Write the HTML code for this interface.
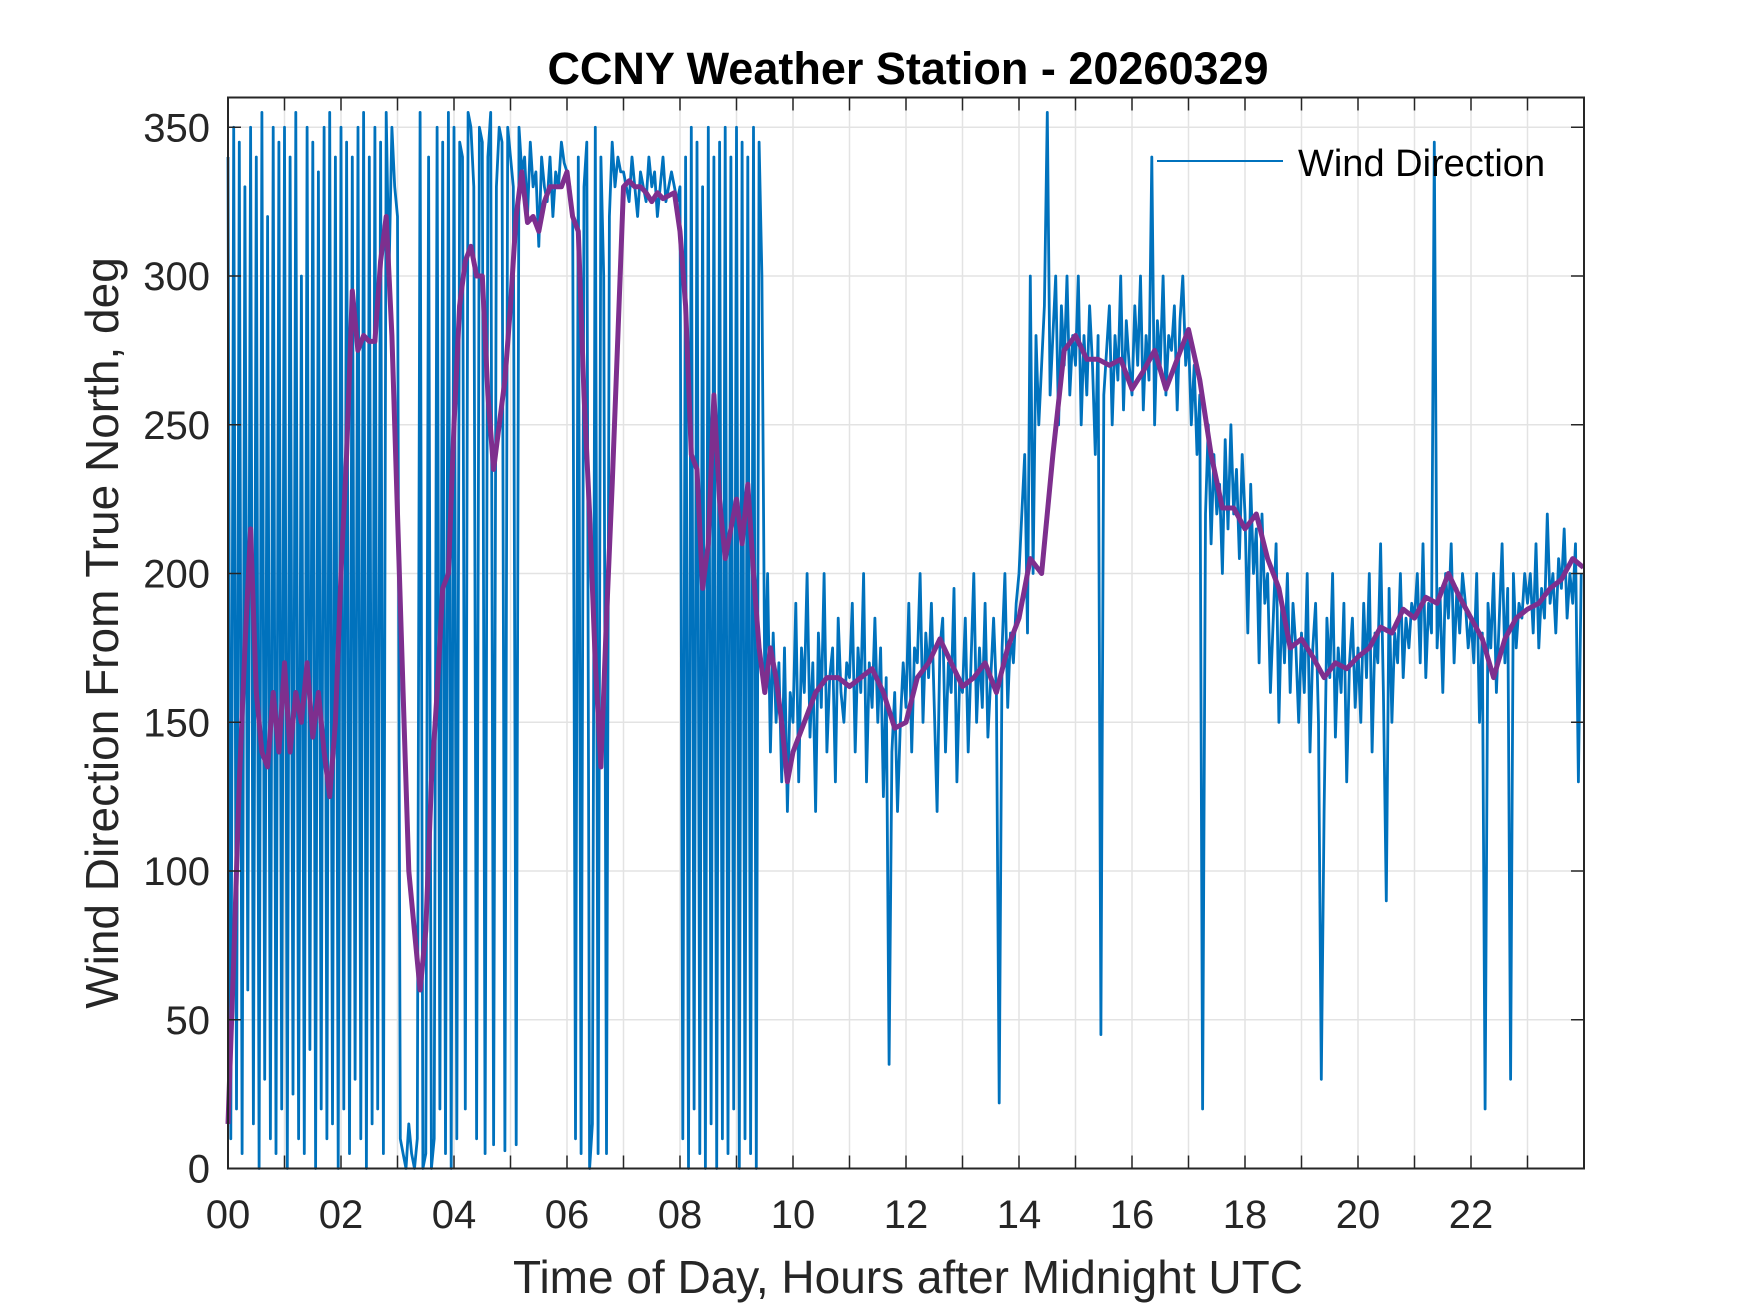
<!DOCTYPE html>
<html><head><meta charset="utf-8"><style>
html,body{margin:0;padding:0;background:#fff;}
svg{display:block;font-family:"Liberation Sans",Arial,sans-serif;}
</style></head><body>
<svg id="chart" width="1750" height="1313" viewBox="0 0 1750 1313" xmlns="http://www.w3.org/2000/svg">
<rect width="1750" height="1313" fill="#fff"/>
<g id="grid"></g>
<g id="series"></g>
<g id="axes"></g>
<text x="908" y="84" text-anchor="middle" font-size="45" font-weight="bold" fill="#000">CCNY Weather Station - 20260329</text>
<text x="908" y="1293" text-anchor="middle" font-size="46" fill="#262626">Time of Day, Hours after Midnight UTC</text>
<text transform="translate(118,633) rotate(-90)" text-anchor="middle" font-size="46" fill="#262626">Wind Direction From True North, deg</text>
<g>
<line x1="1157" y1="161" x2="1283" y2="161" stroke="#0072BD" stroke-width="2"/>
<text x="1298" y="176" font-size="38" fill="#000">Wind Direction</text>
</g>
</svg>
<script>
const xTicks = [0,1,2,3,4,5,6,7,8,9,10,11,12,13,14,15,16,17,18,19,20,21,22,23,24];
const xTickLabels = ["00","","02","","04","","06","","08","","10","","12","","14","","16","","18","","20","","22","",""];
const yTicks = [0,50,100,150,200,250,300,350];
const yTickLabels = ["0","50","100","150","200","250","300","350"];
const windStep = 0.05;
const windValues = [
340,10,350,20,345,5,330,60,350,15,340,0,355,30,320,10,350,5,345,20,
350,0,340,25,355,10,300,5,350,40,345,0,335,20,350,10,355,15,340,0,
350,20,345,5,340,30,350,10,355,0,340,15,350,20,345,5,355,300,350,330,
320,10,5,0,15,5,0,10,355,0,5,340,0,10,350,20,345,5,355,0,
350,10,345,340,20,355,350,330,10,350,345,5,340,355,8,330,350,345,6,350,
340,330,8,350,335,340,320,345,330,335,310,340,330,325,340,320,335,330,345,338,
335,330,320,10,340,5,330,345,0,15,350,5,340,300,5,320,345,330,340,335,
335,330,325,340,330,320,335,330,325,340,330,335,320,330,340,325,330,335,330,325,
330,10,340,0,350,20,345,5,330,0,350,15,340,0,345,10,350,5,340,20,
350,0,345,10,340,5,350,0,345,300,
160,200,140,180,150,170,130,175,120,160,
150,190,130,175,160,200,145,170,120,180,155,200,140,165,175,130,185,160,150,170,
165,190,140,175,160,200,130,170,155,185,150,175,125,165,35,140,160,120,150,170,
155,190,140,175,170,200,150,180,165,190,155,120,175,185,140,170,160,195,130,165,
160,185,140,170,200,150,175,155,190,145,165,185,160,22,175,200,155,180,170,190,
200,220,240,180,300,200,280,250,270,290,355,260,280,300,250,290,270,300,260,280,
270,300,250,280,260,290,270,240,280,45,260,275,290,250,280,265,300,255,285,270,
260,290,270,300,255,280,265,340,250,285,270,300,260,280,275,290,255,285,300,270,
280,250,270,240,260,20,220,250,210,240,220,230,200,245,215,250,220,235,205,240,
220,180,230,200,215,170,220,190,200,160,185,210,150,190,170,200,160,190,175,150,
180,160,200,140,175,190,150,30,120,185,165,200,145,175,160,190,130,170,185,155,
175,150,190,165,200,140,180,170,210,160,90,195,150,180,170,200,165,185,175,190,
185,200,170,210,165,190,180,345,175,195,160,200,185,210,170,195,180,200,190,175,
185,170,200,150,180,20,190,175,200,160,185,210,170,195,30,200,175,190,185,200,
190,200,180,210,175,195,185,220,190,200,180,205,195,215,185,200,190,210,130,200
];
const avgHours = [0,0.1,0.2,0.3,0.4,0.5,0.6,0.7,0.8,0.9,1.0,1.1,1.2,1.3,1.4,1.5,1.6,1.7,1.8,1.9,2.0,2.1,2.2,2.3,2.4,2.5,2.6,2.7,2.8,2.9,3.0,3.1,3.2,3.3,3.4,3.5,3.6,3.7,3.8,3.9,4.0,4.1,4.2,4.3,4.4,4.5,4.6,4.7,4.8,4.9,5.0,5.1,5.2,5.3,5.4,5.5,5.6,5.7,5.8,5.9,6.0,6.1,6.2,6.3,6.4,6.5,6.6,6.7,6.8,6.9,7.0,7.1,7.2,7.3,7.4,7.5,7.6,7.7,7.8,7.9,8.0,8.1,8.2,8.3,8.4,8.5,8.6,8.7,8.8,8.9,9.0,9.1,9.2,9.3,9.4,9.5,9.6,9.7,9.8,9.9,10.0,10.2,10.4,10.6,10.8,11.0,11.2,11.4,11.6,11.8,12.0,12.2,12.4,12.6,12.8,13.0,13.2,13.4,13.6,13.8,14.0,14.2,14.4,14.6,14.8,15.0,15.2,15.4,15.6,15.8,16.0,16.2,16.4,16.6,16.8,17.0,17.2,17.4,17.6,17.8,18.0,18.2,18.4,18.6,18.8,19.0,19.2,19.4,19.6,19.8,20.0,20.2,20.4,20.6,20.8,21.0,21.2,21.4,21.6,21.8,22.0,22.2,22.4,22.6,22.8,23.0,23.2,23.4,23.6,23.8,23.99];
const avgValues = [15,70,130,175,215,160,140,135,160,140,170,140,160,150,170,145,160,140,125,150,200,240,295,275,280,278,278,305,320,280,220,160,100,80,60,80,130,160,195,200,250,290,305,310,300,300,260,235,250,265,290,320,335,318,320,315,325,330,330,330,335,320,315,260,220,170,135,185,230,280,330,332,330,330,328,325,328,326,327,328,315,290,240,235,195,210,260,225,205,215,225,210,230,200,175,160,175,165,150,130,140,150,160,165,165,162,165,168,160,148,150,165,170,178,170,162,165,170,160,175,185,205,200,240,275,280,272,272,270,272,262,268,275,262,272,282,265,240,222,222,215,220,205,195,175,178,172,165,170,168,172,175,182,180,188,185,192,190,200,192,185,178,165,178,185,188,190,195,198,205,202];

const L=228,R=1584,T=97.5,B=1168.5;
const xS=h=>L+(h/24)*(R-L);
const yS=v=>B-(v/360)*(B-T);
const NS="http://www.w3.org/2000/svg";
function mk(tag,attrs,parent){const e=document.createElementNS(NS,tag);for(const k in attrs)e.setAttribute(k,attrs[k]);parent.appendChild(e);return e;}
const grid=document.getElementById('grid'),series=document.getElementById('series'),axes=document.getElementById('axes');
xTicks.forEach((t,i)=>{
  const x=xS(t);
  if(t>0&&t<24){const g=mk('line',{x1:x,y1:T,x2:x,y2:B,stroke:'#e3e3e3','stroke-width':1.5},grid);
  
  }
  const a=mk('line',{x1:x,y1:B,x2:x,y2:B-13,stroke:'#262626','stroke-width':1.5},axes);
  
  
  const b=mk('line',{x1:x,y1:T,x2:x,y2:T+13,stroke:'#262626','stroke-width':1.5},axes);
  
  
  if(xTickLabels[i]){const tx=mk('text',{x:x,y:1228,'text-anchor':'middle','font-size':40,fill:'#262626'},axes);tx.textContent=xTickLabels[i];
  
  }
});
yTicks.forEach((t,i)=>{
  const y=yS(t);
  if(t>0){const g=mk('line',{x1:L,y1:y,x2:R,y2:y,stroke:'#e3e3e3','stroke-width':1.5},grid);
  
  }
  const a=mk('line',{x1:L,y1:y,x2:L+13,y2:y,stroke:'#262626','stroke-width':1.5},axes);
  
  
  const b=mk('line',{x1:R,y1:y,x2:R-13,y2:y,stroke:'#262626','stroke-width':1.5},axes);
  
  
  const tx=mk('text',{x:210,y:y+14,'text-anchor':'end','font-size':40,fill:'#262626'},axes);tx.textContent=yTickLabels[i];
  
  
});
const frame=mk('rect',{x:L,y:T,width:R-L,height:B-T,fill:'none',stroke:'#262626','stroke-width':2},axes);


const wp=windValues.map((v,i)=>xS(Math.min(i*windStep,24)).toFixed(1)+','+yS(v).toFixed(1)).join(' ');
const wl=mk('polyline',{points:wp,fill:'none',stroke:'#0072BD','stroke-width':2.8,'stroke-linejoin':'round'},series);


const ap=avgValues.map((v,i)=>xS(avgHours[i]).toFixed(1)+','+yS(v).toFixed(1)).join(' ');
const al=mk('polyline',{points:ap,fill:'none',stroke:'#7E2F8E','stroke-width':5,'stroke-linejoin':'round'},series);


</script>
</body></html>
